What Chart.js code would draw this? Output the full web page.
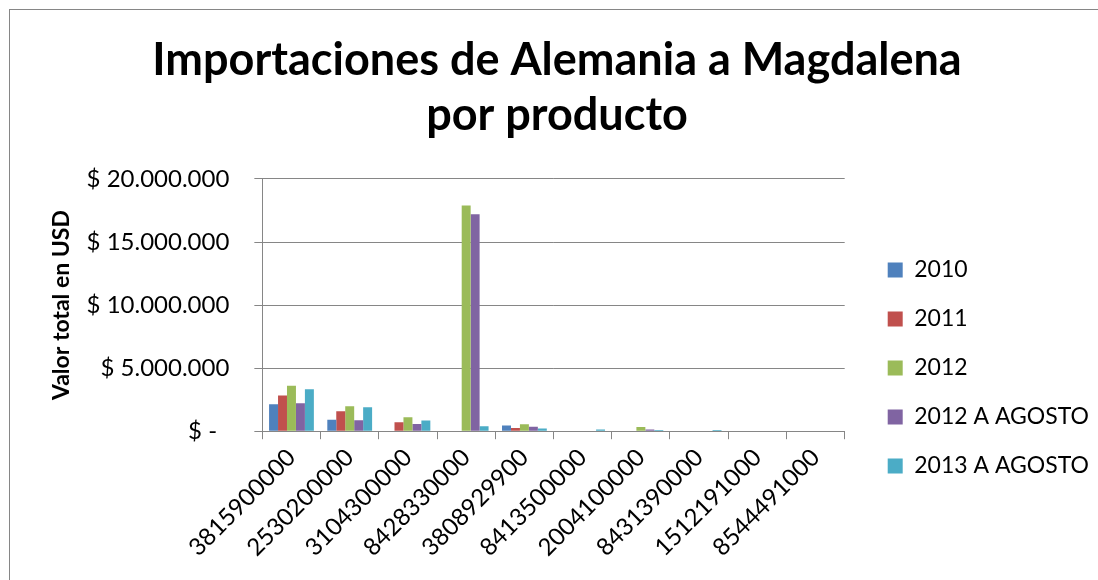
<!DOCTYPE html>
<html>
<head>
    <meta charset="utf-8">
    <title>Importaciones de Alemania a Magdalena</title>
    <style>
        body {
            margin: 0;
            background-color: white;
            overflow: hidden;
            width: 1098px;
            height: 580px;
        }

        .marco {
            position: absolute;
            left: 9px;
            top: 9px;
            width: 1200px;
            height: 700px;
            border: 1px solid #868686;
        }

        #grafico {
            position: absolute;
            left: 0;
            top: 0;
        }
    </style>
</head>
<body>
    <div class="marco"></div>
    <canvas id="grafico" width="1110" height="580"></canvas>

    <script src="https://cdn.jsdelivr.net/npm/chart.js"></script>
    <script>
        // productos (partida arancelaria)
        var productos = ['3815900000', '2530200000', '3104300000', '8428330000', '3808929900',
            '8413500000', '2004100000', '8431390000', '1512191000', '8544491000'];

        var series = ['2010', '2011', '2012', '2012 A AGOSTO', '2013 A AGOSTO'];
        var colores = ['#4F81BD', '#C0504D', '#9BBB59', '#8064A2', '#4BACC6'];

        // valores en USD
        var v2010 = [2140000, 900000, 0, 0, 450000, 0, 0, 0, 0, 0];
        var v2011 = [2830000, 1590000, 710000, 0, 260000, 0, 0, 0, 0, 0];
        var v2012 = [3600000, 1980000, 1110000, 17900000, 550000, 0, 330000, 0, 0, 0];
        var v2012ago = [2220000, 870000, 580000, 17200000, 350000, 0, 130000, 0, 0, 0];
        var v2013ago = [3330000, 1900000, 850000, 400000, 220000, 130000, 100000, 100000, 0, 0];

        var ticksY = [0, 5000000, 10000000, 15000000, 20000000];

        var valores = [v2010, v2011, v2012, v2012ago, v2013ago];
        var fuente = 'Lato, "Open Sans", sans-serif';
        var gris = '#868686';
        var huecoLeyenda = 17; // espacio entre el area del grafico y la leyenda

        function formatoDolar(valor) {
            if (valor === 0) return '$ -  ';
            return '$ ' + valor.toString().replace(/\B(?=(\d{3})+(?!\d))/g, '.');
        }

        var datasets = series.map(function(nombre, i) {
            return {
                label: nombre,
                data: valores[i],
                backgroundColor: colores[i],
                borderWidth: 0,
                categoryPercentage: 5 / 6.5,
                barPercentage: 1
            };
        });

        // corre la leyenda a la derecha despues del layout
        var moverLeyenda = {
            id: 'moverLeyenda',
            afterLayout: function(chart) {
                chart.legend.left += huecoLeyenda;
                chart.legend.right += huecoLeyenda;
            }
        };

        new Chart(document.getElementById('grafico').getContext('2d'), {
            type: 'bar',
            data: {
                labels: productos,
                datasets: datasets
            },
            plugins: [moverLeyenda],
            options: {
                responsive: false,
                animation: false,
                layout: {
                    padding: { left: 32, right: 28, top: 20, bottom: 14 }
                },
                plugins: {
                    title: {
                        display: true,
                        text: ['Importaciones de Alemania a Magdalena', 'por producto'],
                        color: '#000',
                        font: { family: fuente, size: 45, weight: 'bold', lineHeight: 1.244 },
                        padding: { top: 12, bottom: 35 }
                    },
                    legend: {
                        position: 'right',
                        title: {
                            // solo sirve para bajar la lista de la leyenda
                            display: true,
                            text: ' ',
                            font: { size: 10, lineHeight: 1.2 },
                            padding: 69
                        },
                        labels: {
                            color: '#000',
                            font: { family: fuente, size: 23 },
                            boxWidth: 15,
                            boxHeight: 15,
                            padding: 26
                        }
                    },
                    tooltip: { enabled: false }
                },
                scales: {
                    x: {
                        border: { color: gris, width: 1 },
                        grid: {
                            drawOnChartArea: false,
                            offset: true,
                            color: gris,
                            tickLength: 8
                        },
                        ticks: {
                            color: '#000',
                            font: { family: fuente, size: 24 },
                            minRotation: 45,
                            maxRotation: 45,
                            padding: 4
                        }
                    },
                    y: {
                        min: 0,
                        max: 20000000,
                        afterBuildTicks: function(escala) {
                            escala.ticks = ticksY.map(function(v) { return { value: v }; });
                        },
                        border: { color: gris, width: 1 },
                        grid: {
                            color: gris,
                            tickLength: 8
                        },
                        ticks: {
                            color: '#000',
                            font: { family: fuente, size: 24 },
                            padding: 25,
                            callback: function(valor) { return formatoDolar(valor); }
                        },
                        title: {
                            display: true,
                            text: 'Valor total en USD',
                            color: '#000',
                            font: { family: fuente, size: 23, weight: 'bold', lineHeight: 1.2 },
                            padding: { top: 16, bottom: -14 }
                        }
                    }
                }
            }
        });
    </script>
</body>
</html>
